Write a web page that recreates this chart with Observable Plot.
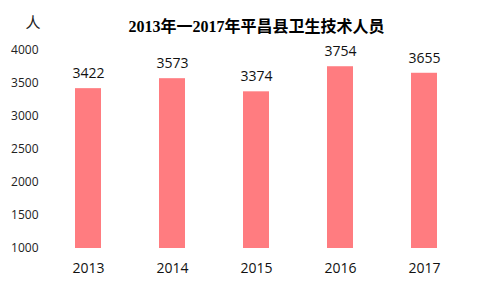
<!DOCTYPE html>
<html><head><meta charset="utf-8">
<script src="https://cdn.jsdelivr.net/npm/d3@7"></script>
<script src="https://cdn.jsdelivr.net/npm/@observablehq/plot@0.6"></script>
<style>
html,body{margin:0;padding:0;background:#fff;}
#chart{position:relative;width:480px;height:290px;}
</style>
</head><body><div id="chart"></div>
<script>
const years = ["2013","2014","2015","2016","2017"];
const staff = [3422, 3573, 3374, 3754, 3655];
const yTicks = [1000,1500,2000,2500,3000,3500,4000];
const title = "2013年一2017年平昌县卫生技术人员";
const unit = "人";

const data = years.map((y,i)=>({year:y, value:staff[i]}));

const chart = Plot.plot({
  width: 480, height: 290,
  marginTop: 50, marginBottom: 42, marginLeft: 46, marginRight: 14,
  style: {fontFamily: "'Open Sans', 'Noto Sans CJK SC', sans-serif", background: "#fff", color: "#222"},
  x: {domain: years, padding: 0, label: null, axis: null},
  y: {domain: [1000, 4000], label: null, axis: null},
  marks: [
    Plot.axisY({ticks: yTicks, tickFormat: "d", tickSize: 0, tickPadding: 8, label: null, fontSize: 12, fill: "#222"}),
    Plot.axisX({tickSize: 0, tickPadding: 15, label: null, fontSize: 14, fill: "#111"}),
    Plot.barY(data, {x: "year", y1: 1000, y2: "value", fill: "#ff7c80", insetLeft: 29, insetRight: 29}),
    Plot.text(data, {x: "year", y: "value", text: d => String(d.value), dy: -15, fontSize: 14, fill: "#111"}),
    Plot.text([title], {frameAnchor: "top", dy: -30, text: d => d, fontSize: 16, fontWeight: "bold",
      fontFamily: "'Liberation Serif', 'Noto Sans CJK SC', serif", fill: "#000"}),
    Plot.text([unit], {frameAnchor: "top-left", dx: -21, dy: -33, text: d => d, fontSize: 15, fill: "#222",
      fontFamily: "'Noto Sans CJK SC', sans-serif"})
  ]
});
document.getElementById("chart").appendChild(chart);
</script>
</body></html>
